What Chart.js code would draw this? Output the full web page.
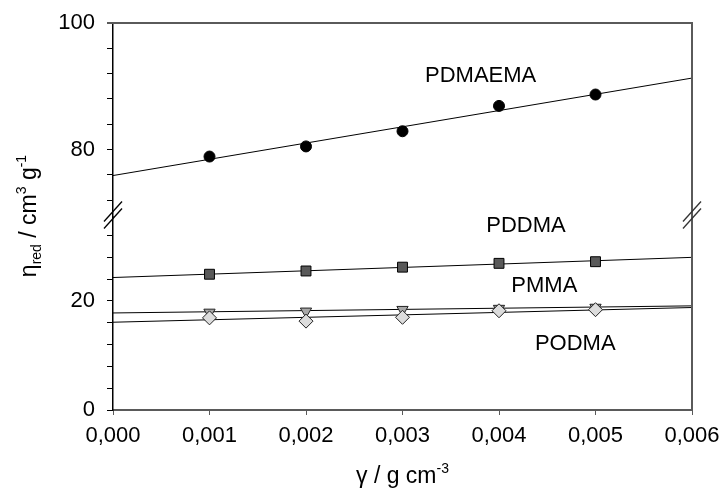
<!DOCTYPE html>
<html><head><meta charset="utf-8">
<script src="https://cdn.jsdelivr.net/npm/chart.js@4/dist/chart.umd.min.js"></script>
<style>html,body{margin:0;padding:0;background:#fff}#wrap{width:722px;height:496px}</style>
</head><body><div id="wrap"><canvas id="c" width="722" height="496"></canvas></div>
<script>
// ---- data ----
const concentrations = [0.001, 0.002, 0.003, 0.004, 0.005];
const pdmaema = [78.9, 80.5, 82.9, 86.9, 88.7];
const pddma = [24.9, 25.5, 26.2, 26.9, 27.2];
const pmma = [17.9, 18.1, 18.4, 18.6, 18.8];
const podma = [16.9, 16.3, 17.0, 18.2, 18.4];
const fitX = [0, 0.006];
const pdmaemaFit = [75.9, 91.3];
const pddmaFit = [24.3, 28.0];
const pmmaFit = [17.8, 19.1];
const podmaFit = [16.1, 18.8];
const xTicks = [0, 0.001, 0.002, 0.003, 0.004, 0.005, 0.006];
const xTickLabels = ['0,000', '0,001', '0,002', '0,003', '0,004', '0,005', '0,006'];
const topTicks = [72, 76, 80, 84, 88, 92, 96, 100];
const bottomTicks = [0, 4, 8, 12, 16, 20, 24, 28, 32];
const labeledYTicks = [0, 20, 80, 100];
const seriesNames = ['PDMAEMA', 'PDDMA', 'PMMA', 'PODMA'];

const FONT = "'Liberation Sans', Arial, sans-serif";
const pts = (ys) => ys.map((y, i) => ({x: concentrations[i], y}));
const fit = (ys) => ys.map((y, i) => ({x: fitX[i], y}));

const lineDs = (ys, axis) => ({
  data: fit(ys), yAxisID: axis, showLine: true, borderColor: '#000', borderWidth: 1,
  pointRadius: 0, fill: false, order: 10
});

// label anchors in data units
const seriesLabelAnchors = [
  {text: seriesNames[0], x: 0.00381, y: 91.6, axis: 'yTop'},
  {text: seriesNames[1], x: 0.00428, y: 33.8, axis: 'yBottom'},
  {text: seriesNames[2], x: 0.00447, y: 22.7, axis: 'yBottom'},
  {text: seriesNames[3], x: 0.00479, y: 12.2, axis: 'yBottom'}
];

function drawRich(ctx, segs, x, y) {
  let total = 0;
  segs.forEach(s => { ctx.font = s[1] + 'px ' + FONT; total += ctx.measureText(s[0]).width; });
  let cx = x - total / 2;
  ctx.textBaseline = 'alphabetic';
  ctx.textAlign = 'left';
  segs.forEach(s => {
    ctx.font = s[1] + 'px ' + FONT;
    ctx.fillText(s[0], cx, y + s[2]);
    cx += ctx.measureText(s[0]).width;
  });
}

const decor = {
  id: 'decor',
  afterDraw(chart) {
    const ctx = chart.ctx, a = chart.chartArea;
    ctx.save();
    // frame: top and right
    ctx.strokeStyle = '#5a5a5a';
    ctx.lineWidth = 2;
    ctx.beginPath();
    ctx.moveTo(a.left - 6, a.top);
    ctx.lineTo(a.right, a.top);
    ctx.lineTo(a.right, a.bottom);
    ctx.stroke();
    // break marks
    const yb = chart.scales.yTop.bottom - 2;
    [[a.left, '#000'], [a.right, '#333']].forEach(([bx, col]) => {
      ctx.strokeStyle = col;
      ctx.lineWidth = 1.3;
      [-3.5, 3.5].forEach(off => {
        ctx.beginPath();
        ctx.moveTo(bx - 9, yb + off + 10);
        ctx.lineTo(bx + 9, yb + off - 10);
        ctx.stroke();
      });
    });
    // series labels
    ctx.fillStyle = '#000';
    ctx.font = '22px ' + FONT;
    ctx.textAlign = 'center';
    ctx.textBaseline = 'middle';
    seriesLabelAnchors.forEach(l => {
      ctx.fillText(l.text, chart.scales.x.getPixelForValue(l.x), chart.scales[l.axis].getPixelForValue(l.y));
    });
    // axis titles
    drawRich(ctx, [['γ', 23, 0], [' / g cm', 23, 0], ['-3', 14, -10]], (a.left + a.right) / 2, 483);
    ctx.translate(36, 216);
    ctx.rotate(-Math.PI / 2);
    drawRich(ctx, [['η', 23, 0], ['red', 14, 5], [' / cm', 23, 0], ['3', 14, -10], [' g', 23, 0], ['-1', 14, -10]], 0, 0);
    ctx.restore();
  }
};

const yCommon = (ticksArr) => ({
  type: 'linear', position: 'left', stack: 'y',
  afterBuildTicks: s => { s.ticks = ticksArr.map(v => ({value: v})); },
  afterFit: s => { s.width = 113; s.paddingTop = 0; s.paddingBottom = 0; },
  ticks: {
    autoSkip: false, padding: 12, color: '#000', font: {family: FONT, size: 22},
    callback: v => labeledYTicks.includes(v) ? String(v) : ''
  },
  grid: {drawOnChartArea: false, drawTicks: true, tickLength: 6, color: '#000', lineWidth: 1},
  border: {display: true, color: '#000', width: 1.5}
});

new Chart(document.getElementById('c'), {
  type: 'scatter',
  data: {
    datasets: [
      {label: seriesNames[0], data: pts(pdmaema), yAxisID: 'yTop', pointStyle: 'circle', pointRadius: 5.5,
       backgroundColor: '#000', borderColor: '#000', borderWidth: 1, order: 1},
      {label: seriesNames[1], data: pts(pddma), yAxisID: 'yBottom', pointStyle: 'rect', pointRadius: 7,
       backgroundColor: '#595959', borderColor: '#000', borderWidth: 1, order: 1},
      {label: seriesNames[3], data: pts(podma), yAxisID: 'yBottom', pointStyle: 'rectRot', pointRadius: 7,
       backgroundColor: '#dcdcdc', borderColor: '#222', borderWidth: 1, order: 1},
      {label: seriesNames[2], data: pts(pmma), yAxisID: 'yBottom', pointStyle: 'triangle', rotation: 180, pointRadius: 6.5,
       backgroundColor: '#a8a8a8', borderColor: '#222', borderWidth: 1, order: 2},
      lineDs(pdmaemaFit, 'yTop'),
      lineDs(pddmaFit, 'yBottom'),
      lineDs(pmmaFit, 'yBottom'),
      lineDs(podmaFit, 'yBottom')
    ]
  },
  options: {
    responsive: false, animation: false,
    layout: {padding: {left: 0, right: 30, top: 23, bottom: 0}},
    plugins: {legend: {display: false}, tooltip: {enabled: false}},
    scales: {
      x: {
        type: 'linear', min: 0, max: 0.006,
        afterBuildTicks: s => { s.ticks = xTicks.map(v => ({value: v})); },
        afterFit: s => { s.height = 86; s.paddingLeft = 0; s.paddingRight = 0; },
        ticks: {autoSkip: false, maxRotation: 0, padding: 8, color: '#000', font: {family: FONT, size: 22},
                callback: (v, i) => xTickLabels[i]},
        grid: {drawOnChartArea: false, drawTicks: true, tickLength: 5, color: '#5a5a5a', lineWidth: 1},
        border: {display: true, color: '#5a5a5a', width: 2}
      },
      yBottom: Object.assign(yCommon(bottomTicks), {min: 0, max: 35.4, stackWeight: 193}),
      yTop: Object.assign(yCommon(topTicks), {min: 69.35, max: 100, stackWeight: 194})
    }
  },
  plugins: [decor]
});
</script></body></html>
